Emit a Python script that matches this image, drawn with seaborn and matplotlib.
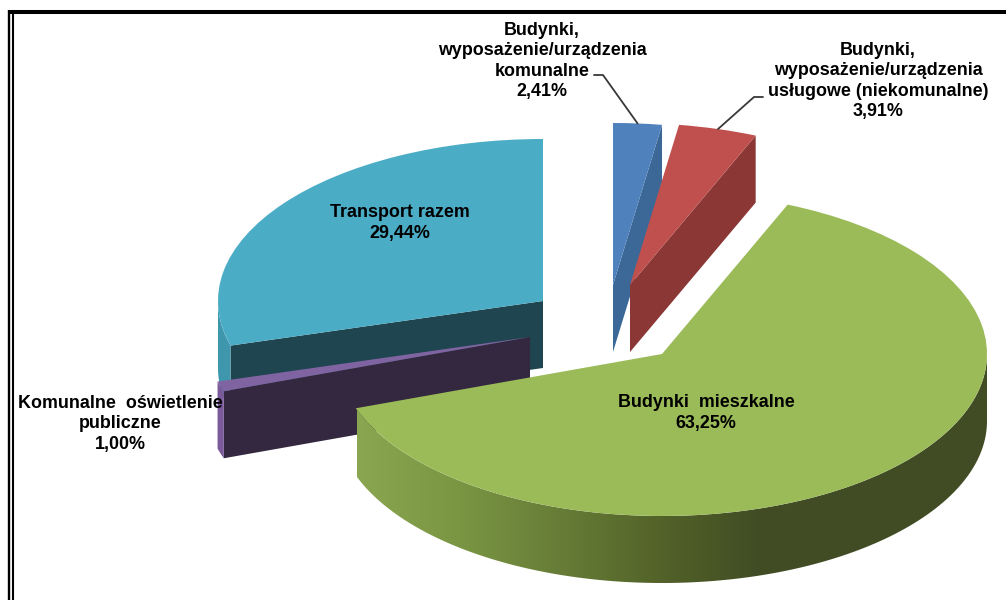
import numpy as np
import matplotlib
matplotlib.use("Agg")
import matplotlib.pyplot as plt
from matplotlib.patches import Polygon
from matplotlib.transforms import Affine2D
import seaborn as sns

# Shares in percent, clockwise from 12 o'clock
names = [
    "Budynki,\nwyposażenie/urządzenia\nkomunalne",
    "Budynki,\nwyposażenie/urządzenia\nusługowe (niekomunalne)",
    "Budynki  mieszkalne",
    "Komunalne  oświetlenie\npubliczne",
    "Transport razem",
]
shares = [2.41, 3.91, 63.25, 1.00, 29.44]

top_colors = ["#4f81bd", "#c0504d", "#9bbb59", "#8064a2", "#4bacc6"]
face_colors = ["#3c6898", "#8b3735", "#414c24", "#33283f", "#1f4550"]
rim_colors = ["#3c6898", "#8b3735", "#414c24", "#7a5a9a", "#3f97ae"]

# Exploded slice apexes in pixels, and the pie's ellipse
centers = [(613, 285), (630, 285), (662, 354), (530, 337), (543, 301)]
label_pos = [(542, 61), (878, 81), (706, 413), (120, 424), (400, 223)]
RX, RY, DEPTH = 325, 162, 67

sns.set_theme(style="white")
plt.rcParams["font.family"] = ["Liberation Sans", "DejaVu Sans"]

fig, ax = plt.subplots(figsize=(10.06, 6), dpi=100)
fig.subplots_adjust(0, 0, 1, 1)

wedges, _ = ax.pie(shares, startangle=90, counterclock=False, colors=top_colors,
                   wedgeprops={"linewidth": 0})

green_side = sns.blend_palette(["#8aa650", "#7a9643", "#677d37", "#536329", "#414c24"], as_cmap=True)


def rim(i, theta):
    cx, cy = centers[i]
    return cx + RX * np.cos(np.radians(theta)), cy - RY * np.sin(np.radians(theta))


# back to front, the same order the slices overlap in the original
for z, i in enumerate([4, 3, 0, 1, 2]):
    w = wedges[i]
    cx, cy = centers[i]
    mid = (w.theta1 + w.theta2) / 2

    # radial wall, the big slice hides its own
    if i != 2:
        edge = w.theta1 if np.cos(np.radians(mid)) > 0 else w.theta2
        ex, ey = rim(i, edge)
        ax.fill([cx, ex, ex, cx], [cy, ey, ey + DEPTH, cy + DEPTH],
                color=face_colors[i], lw=0, zorder=z * 3 + 1)

    # outer wall, only the front half of the rim shows
    thetas = np.linspace(w.theta1, w.theta2, 300)
    thetas = thetas[np.sin(np.radians(thetas)) < 0]
    if len(thetas) > 1:
        xs, ys = rim(i, thetas)
        px = np.r_[xs, xs[::-1]]
        py = np.r_[ys, ys[::-1] + DEPTH]
        if i == 2:
            # the big slice's wall fades from light to dark along x, flat after x=760
            poly = Polygon(np.c_[px, py], closed=True, fc="none", lw=0, transform=ax.transData)
            ax.add_patch(poly)
            grad = np.clip(np.linspace(0, 643 / 403, 600), 0, 1).reshape(1, -1)
            im = ax.imshow(grad, cmap=green_side, vmin=0, vmax=1, extent=(357, 1000, 600, 0),
                           aspect="auto", zorder=z * 3 + 2)
            im.set_clip_path(poly)
        else:
            ax.fill(px, py, color=rim_colors[i], lw=0, zorder=z * 3 + 2)

    w.set_transform(Affine2D().scale(RX, -RY).translate(cx, cy) + ax.transData)
    w.set_zorder(z * 3 + 3)

ax.set_aspect("auto")
ax.set_xlim(0, 1006)
ax.set_ylim(600, 0)
ax.axis("off")

# leader lines
for i, elbow in [(0, [(594, 75), (603, 75)]), (1, [(763, 97), (754, 97)])]:
    w = wedges[i]
    ex, ey = rim(i, (w.theta1 + w.theta2) / 2)
    xs = [p[0] for p in elbow] + [ex]
    ys = [p[1] for p in elbow] + [ey]
    ax.plot(xs, ys, color="#383838", lw=1.3, zorder=20)

for name, share, (x, y) in zip(names, shares, label_pos):
    pct = f"{share:.2f}%".replace(".", ",")
    ax.text(x, y, name + "\n" + pct, ha="center", va="center", ma="center",
            fontsize=12.9, fontweight="bold", color="black", linespacing=1.24, zorder=30)

# double frame of the screenshot
ax.plot([8, 1006], [12, 12], color="black", lw=2.9, solid_capstyle="butt", zorder=40)
ax.plot([9.5, 9.5], [10, 600], color="black", lw=1.7, solid_capstyle="butt", zorder=40)
ax.plot([13, 13], [10, 600], color="black", lw=1.5, solid_capstyle="butt", zorder=40)

fig.savefig("out.png", dpi=100, facecolor="white")
